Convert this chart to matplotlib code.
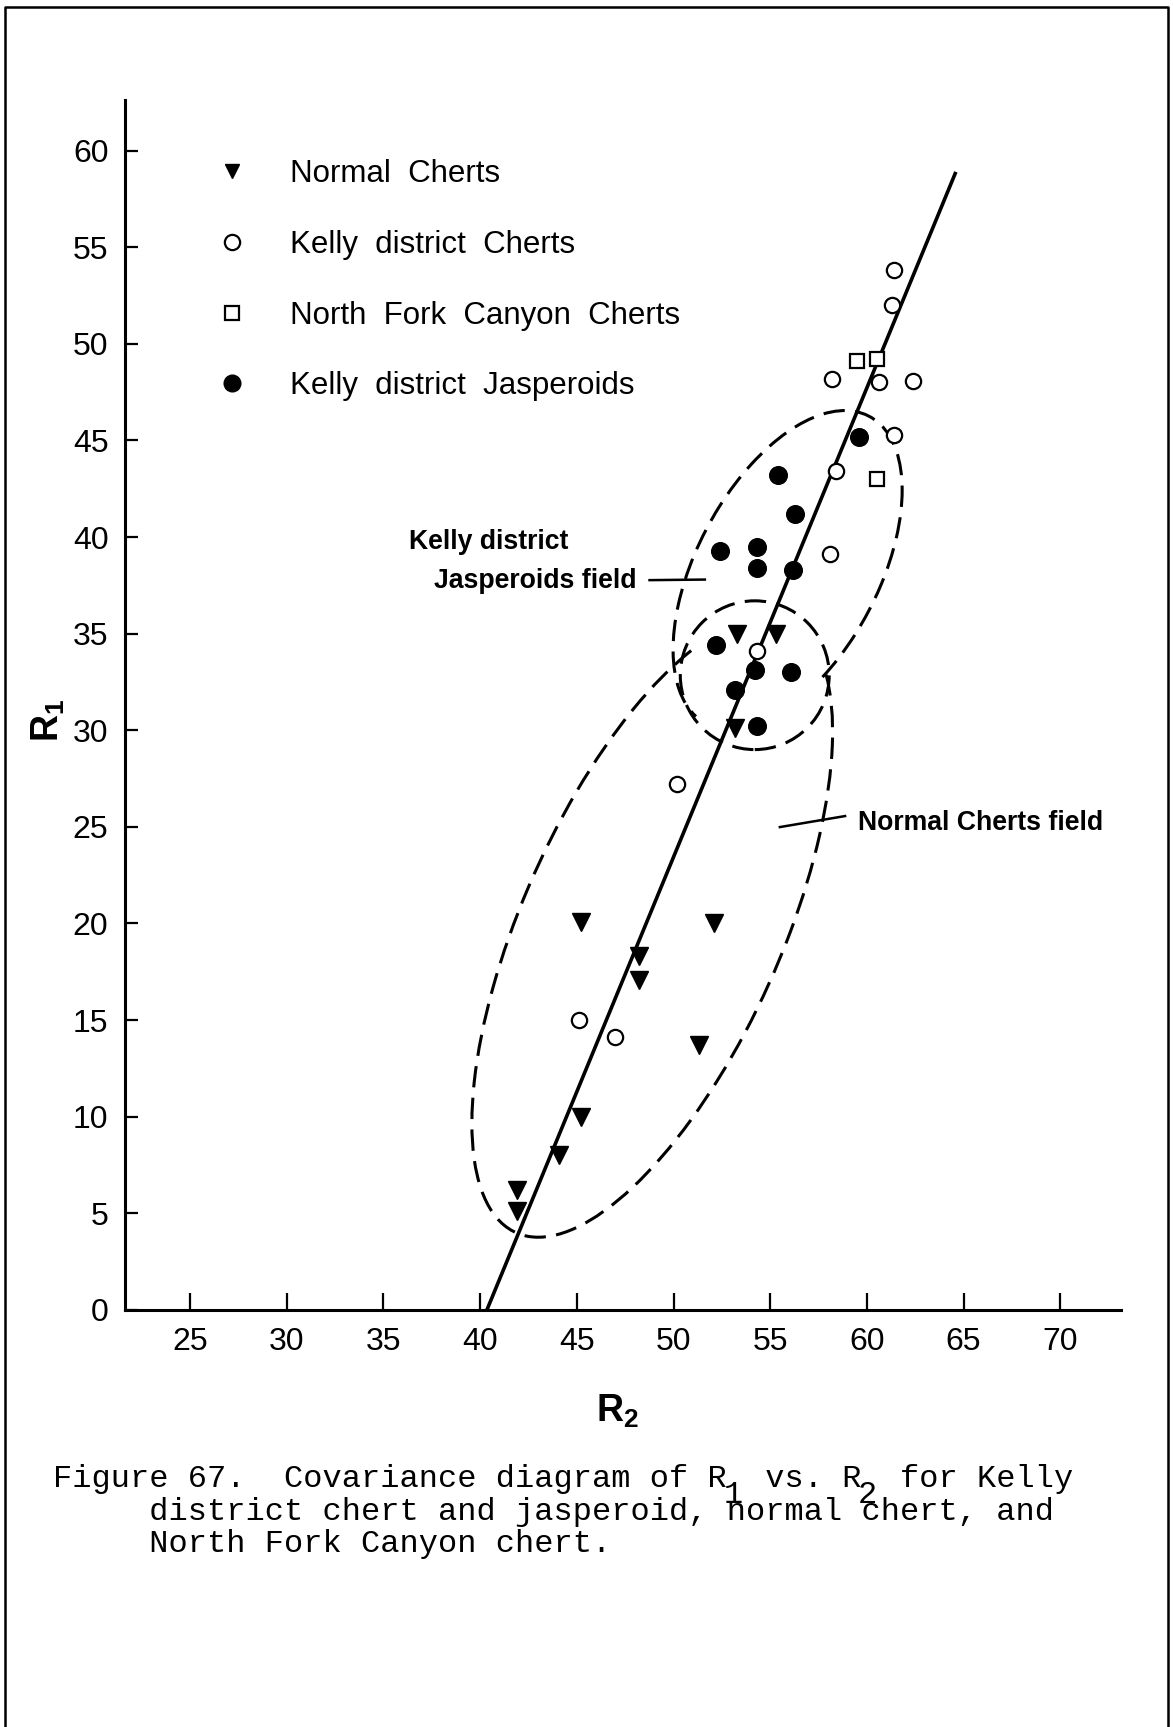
import matplotlib
matplotlib.use('Agg')
import matplotlib.pyplot as plt
from matplotlib.patches import Arc, Circle
from matplotlib.lines import Line2D

# ---- データ (R2, R1) ----
normal_r2 = [53.3, 55.3, 53.2, 45.2, 52.1, 48.2, 48.2, 51.3, 45.2, 44.1, 41.9, 41.9]
normal_r1 = [35.0, 35.0, 30.1, 20.1, 20.0, 18.3, 17.1, 13.7, 10.0, 8.0, 6.2, 5.1]

kelly_chert_r2 = [61.4, 61.3, 58.2, 60.6, 62.4, 61.4, 58.4, 58.1, 54.3, 50.2, 45.1, 47.0]
kelly_chert_r1 = [53.8, 52.0, 48.2, 48.0, 48.1, 45.3, 43.4, 39.1, 34.1, 27.2, 15.0, 14.1]

nfc_r2 = [59.5, 60.5, 60.5]
nfc_r1 = [49.1, 49.2, 43.0]

jasp_r2 = [59.6, 55.4, 56.3, 52.4, 54.3, 54.3, 56.2, 52.2, 54.2, 56.1, 53.2, 54.3]
jasp_r1 = [45.2, 43.2, 41.2, 39.3, 39.5, 38.4, 38.3, 34.4, 33.1, 33.0, 32.1, 30.2]

# 回帰直線の端点
fit_r2 = [40.35, 64.6]
fit_r1 = [0.0, 58.9]

legend_labels = ['Normal  Cherts', 'Kelly  district  Cherts',
                 'North  Fork  Canyon  Cherts', 'Kelly  district  Jasperoids']

x_ticks = [25, 30, 35, 40, 45, 50, 55, 60, 65, 70]
y_ticks = [0, 5, 10, 15, 20, 25, 30, 35, 40, 45, 50, 55, 60]

caption = ['Figure 67.  Covariance diagram of R  vs. R  for Kelly',
           '     district chert and jasperoid, normal chert, and',
           '     North Fork Canyon chert.']

plt.rcParams['font.family'] = 'Liberation Sans'
plt.rcParams['mathtext.fontset'] = 'custom'
plt.rcParams['mathtext.rm'] = 'Liberation Sans'
plt.rcParams['mathtext.bf'] = 'Liberation Sans:bold'

fig = plt.figure(figsize=(11.73, 17.27), dpi=100)
ax = fig.add_axes([0.1066, 0.2415, 0.8491, 0.7006])
ax.set_xlim(21.64, 73.14)
ax.set_ylim(0, 62.62)

for s in ['top', 'right']:
    ax.spines[s].set_visible(False)
for s in ['left', 'bottom']:
    ax.spines[s].set_linewidth(2.2)

ax.set_xticks(x_ticks)
ax.set_yticks(y_ticks)
ax.tick_params(axis='x', direction='in', length=12, width=1.6, pad=12, labelsize=23)
ax.tick_params(axis='y', direction='in', length=9, width=1.6, pad=12, labelsize=23)

# フィールドの破線 (楕円の円の外側だけ描く)
dash = (0, (7.0, 3.4))
ax.add_patch(Arc((48.9, 19.8), 34.6, 13.4, angle=66, theta1=16, theta2=349.5,
                 lw=2.2, ls=dash, color='k'))
ax.add_patch(Arc((55.9, 38.3), 18.0, 9.4, angle=62, theta1=226, theta2=536,
                 lw=2.2, ls=dash, color='k'))
ax.add_patch(Circle((54.2, 32.85), 3.85, fill=False, lw=2.2, ls=dash, color='k'))

ax.plot(fit_r2, fit_r1, color='k', lw=2.6, solid_capstyle='butt')

ax.plot(normal_r2, normal_r1, 'v', ms=12.5, color='k', ls='none')
ax.plot(kelly_chert_r2, kelly_chert_r1, 'o', ms=11, mfc='white', mec='k', mew=1.6, ls='none')
ax.plot(nfc_r2, nfc_r1, 's', ms=9.5, mfc='white', mec='k', mew=1.6, ls='none')
ax.plot(jasp_r2, jasp_r1, 'o', ms=12.7, color='k', ls='none')

# 注記
ax.text(36.31, 39.75, 'Kelly district', fontsize=19.2, fontweight='bold', va='center')
ax.text(37.62, 37.7, 'Jasperoids field', fontsize=19.2, fontweight='bold', va='center')
ax.plot([48.76, 51.62], [37.77, 37.8], color='k', lw=1.8)
ax.text(59.55, 25.2, 'Normal Cherts field', fontsize=19.2, fontweight='bold', va='center')
ax.plot([55.5, 58.87], [24.99, 25.56], color='k', lw=1.8)

handles = [
    Line2D([], [], marker='v', ms=10.5, color='k', ls='none'),
    Line2D([], [], marker='o', ms=11, mfc='white', mec='k', mew=1.6, ls='none'),
    Line2D([], [], marker='s', ms=9.5, mfc='white', mec='k', mew=1.6, ls='none'),
    Line2D([], [], marker='o', ms=12, color='k', ls='none'),
]
ax.legend(handles, legend_labels, loc='upper left', bbox_to_anchor=(0.092, 0.951),
          frameon=False, fontsize=22.5, handlelength=1.0, handletextpad=1.35,
          labelspacing=1.3, borderpad=0, borderaxespad=0)

ax.set_xlabel(r'$\mathbf{R_2}$', fontsize=27)
ax.xaxis.set_label_coords(0.494, -0.068)
ax.set_ylabel(r'$\mathbf{R_1}$', fontsize=27)
ax.yaxis.set_label_coords(-0.058, 0.487)

# キャプション
W, H = 1173.0, 1727.0
fs = 23.0
cw = 0.6 * fs * 100 / 72
base = [1487, 1520, 1552]
for line, yb in zip(caption, base):
    fig.text(53 / W, 1 - yb / H, line, fontsize=fs, family='Liberation Mono',
             va='baseline', ha='left')
for idx, ch in [(35, '1'), (42, '2')]:
    fig.text((53 + idx * cw) / W, 1 - (base[0] + 16) / H, ch, fontsize=fs,
             family='Liberation Mono', va='baseline', ha='left')

# ページ枠
fig.add_artist(Line2D([5 / W, 5 / W, 1168 / W, 1168 / W],
                      [0, 1 - 7 / H, 1 - 7 / H, 0],
                      transform=fig.transFigure, color='k', lw=1.8))

fig.savefig('out.png', dpi=100)
